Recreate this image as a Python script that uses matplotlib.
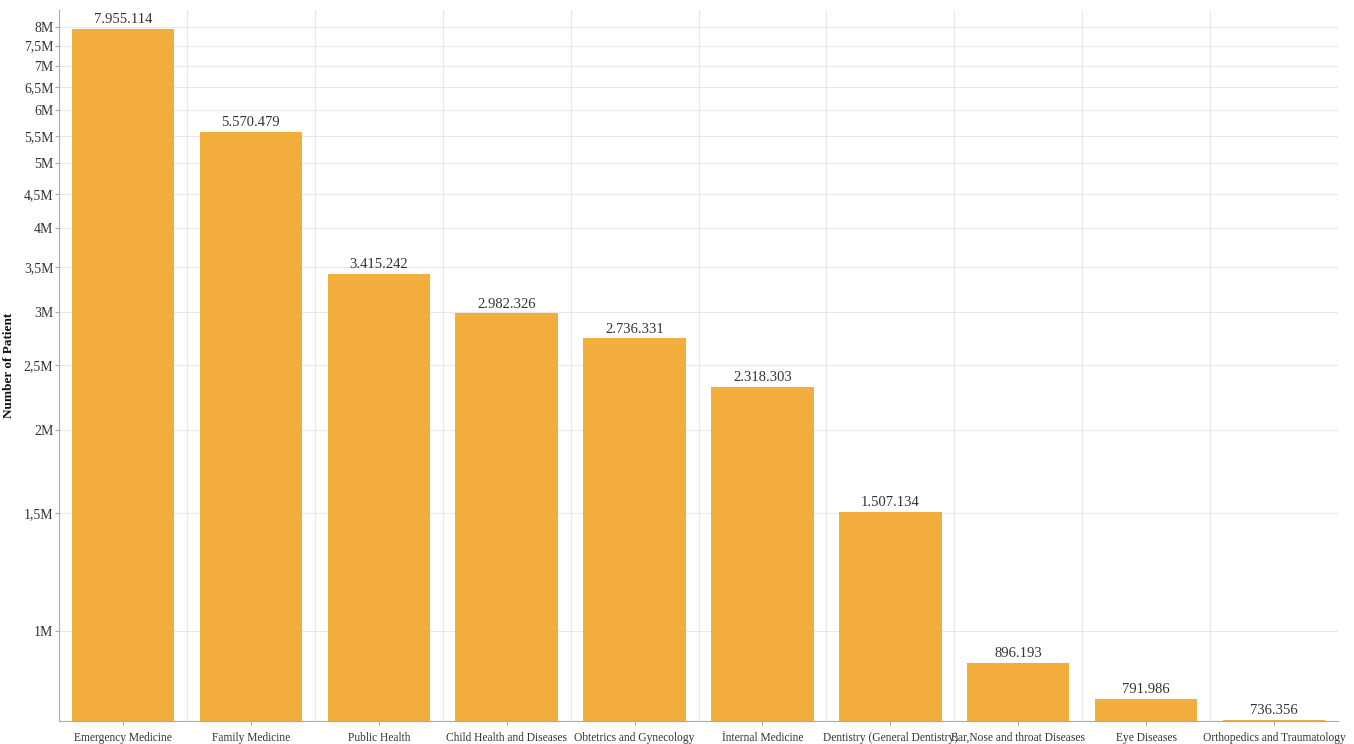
import numpy as np
import matplotlib
matplotlib.use("Agg")
import matplotlib.pyplot as plt
from matplotlib.ticker import FixedLocator, FixedFormatter, NullLocator

# Patients per department
departments = ["Emergency Medicine", "Family Medicine", "Public Health",
               "Child Health and Diseases", "Obtetrics and Gynecology",
               "İnternal Medicine", "Dentistry (General Dentistry)",
               "Ear,Nose and throat Diseases", "Eye Diseases",
               "Orthopedics and Traumatology"]
patients = [7955114, 5570479, 3415242, 2982326, 2736331,
            2318303, 1507134, 896193, 791986, 736356]

ytick_values = [1e6, 1.5e6, 2e6, 2.5e6, 3e6, 3.5e6, 4e6, 4.5e6,
                5e6, 5.5e6, 6e6, 6.5e6, 7e6, 7.5e6, 8e6]
ytick_labels = ["1M", "1,5M", "2M", "2,5M", "3M", "3,5M", "4M", "4,5M",
                "5M", "5,5M", "6M", "6,5M", "7M", "7,5M", "8M"]

plt.rcParams['font.family'] = ['Liberation Serif', 'DejaVu Serif']

bar_color = "#f2ad3d"
grid_color = "#e8e8e8"
text_color = "#333333"

fig = plt.figure(figsize=(13.54, 7.44), dpi=100)
ax = fig.add_axes([59 / 1354, 1 - 721 / 744, 1279 / 1354, 711 / 744])

x = np.arange(len(departments))
ax.bar(x, patients, width=0.8, color=bar_color, zorder=2)

ax.set_yscale("log")
ax.set_ylim(733000, 8.48e6)
ax.set_xlim(-0.5, len(departments) - 0.5)

ax.yaxis.set_major_locator(FixedLocator(ytick_values))
ax.yaxis.set_major_formatter(FixedFormatter(ytick_labels))
ax.yaxis.set_minor_locator(NullLocator())

ax.set_xticks(x)
ax.set_xticklabels(departments, fontsize=8.3, color=text_color)
ax.set_xticks(np.arange(len(departments)) + 0.5, minor=True)
ax.tick_params(axis="x", which="major", length=3, color="#aaaaaa", pad=5)
ax.tick_params(axis="x", which="minor", length=0)
ax.tick_params(axis="y", length=3, color="#aaaaaa", labelsize=10,
               labelcolor=text_color, pad=1)

ax.grid(True, axis="y", which="major", color=grid_color, linewidth=0.8, zorder=0)
ax.grid(True, axis="x", which="minor", color=grid_color, linewidth=0.8, zorder=0)

for side in ["top", "right"]:
    ax.spines[side].set_visible(False)
for side in ["left", "bottom"]:
    ax.spines[side].set_color("#aaaaaa")
    ax.spines[side].set_linewidth(0.8)

ax.set_ylabel("Number of Patient", fontsize=9.5, fontweight="bold",
              color="#111111")
ax.yaxis.set_label_coords(-0.0344, 0.5)

for xi, v in zip(x, patients):
    label = f"{v:,}".replace(",", ".")
    ax.annotate(label, (xi, v), xytext=(0, 2), textcoords="offset points",
                ha="center", va="bottom", fontsize=10.5, color=text_color)

fig.savefig("out.png", dpi=100)
